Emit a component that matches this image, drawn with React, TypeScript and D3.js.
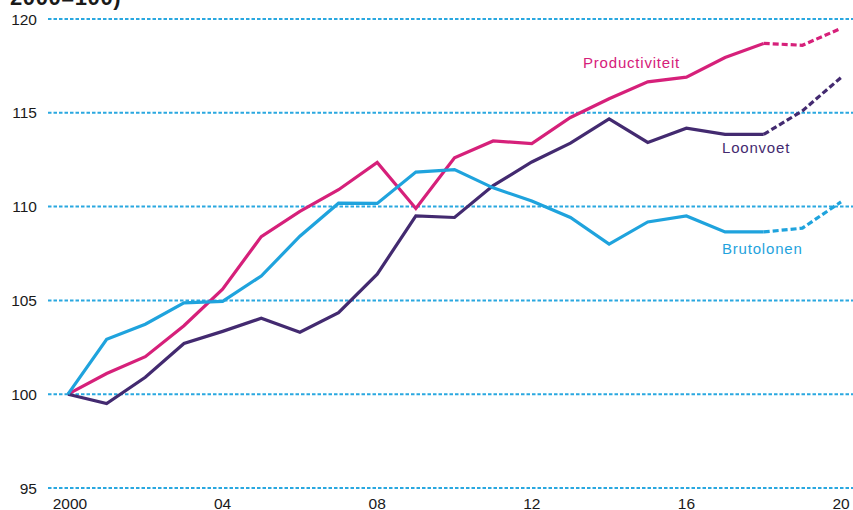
import React from "react";
import * as d3 from "d3";

const years = [2000, 2001, 2002, 2003, 2004, 2005, 2006, 2007, 2008, 2009, 2010, 2011, 2012, 2013, 2014, 2015, 2016, 2017, 2018, 2019, 2020];
const productiviteit = [100, 101.1, 102.0, 103.65, 105.6, 108.4, 109.75, 110.9, 112.35, 109.9, 112.6, 113.5, 113.36, 114.75, 115.75, 116.65, 116.9, 117.95, 118.7, 118.6, 119.5];
const loonvoet = [100, 99.5, 100.9, 102.7, 103.35, 104.05, 103.3, 104.35, 106.4, 109.5, 109.42, 111.12, 112.38, 113.38, 114.68, 113.42, 114.18, 113.85, 113.85, 115.1, 116.88];
const brutolonen = [100, 102.93, 103.73, 104.87, 104.95, 106.3, 108.42, 110.18, 110.17, 111.84, 111.97, 111.0, 110.3, 109.42, 108.0, 109.18, 109.5, 108.65, 108.65, 108.85, 110.25];
const forecastFrom = 2018;
const yTicks = [95, 100, 105, 110, 115, 120];
const xTicks = [2000, 2004, 2008, 2012, 2016, 2020];
const xTickLabels = ["2000", "04", "08", "12", "16", "20"];
const titleText = "2000=100)";

const series = [
  { name: "Productiviteit", values: productiviteit, color: "#d6207a", lx: 583, ly: 68 },
  { name: "Loonvoet", values: loonvoet, color: "#432a70", lx: 722, ly: 153 },
  { name: "Brutolonen", values: brutolonen, color: "#1fa3dd", lx: 722, ly: 254 },
];

export default function App() {
  const x = d3.scaleLinear().domain([2000, 2020]).range([68, 841]);
  const y = d3.scaleLinear().domain([95, 120]).range([488, 19]);
  const line = d3
    .line<[number, number]>()
    .x((d) => x(d[0]))
    .y((d) => y(d[1]));
  const font = "'Liberation Sans', Arial, sans-serif";

  return (
    <svg
      width={853}
      height={510}
      style={{ position: "absolute", left: 0, top: 0, background: "#fff" }}
      fontFamily={font}
    >
      <text x={10} y={5} fontSize={22} fontWeight="bold" fill="#1a1a1a" letterSpacing={0.6}>
        {titleText}
      </text>
      {yTicks.map((t) => (
        <g key={t}>
          <line
            x1={48}
            x2={853}
            y1={y(t)}
            y2={y(t)}
            stroke="#2aa8e0"
            strokeWidth={2}
            strokeDasharray="3.5 2"
          />
          <text x={37} y={y(t)} dy="0.36em" textAnchor="end" fontSize={15.5} fill="#1a1a1a">
            {t}
          </text>
        </g>
      ))}
      {xTicks.map((t, i) => (
        <text key={t} x={x(t) + (i === 0 ? 2 : 0)} y={509} textAnchor="middle" fontSize={15.5} fill="#1a1a1a">
          {xTickLabels[i]}
        </text>
      ))}
      {series.map((s) => {
        const pts: [number, number][] = years.map((yr, i) => [yr, s.values[i]]);
        const solid = pts.filter((p) => p[0] <= forecastFrom);
        const dashed = pts.filter((p) => p[0] >= forecastFrom);
        return (
          <g key={s.name}>
            <path d={line(solid) || ""} fill="none" stroke={s.color} strokeWidth={3.2} strokeLinejoin="miter" />
            <path
              d={line(dashed) || ""}
              fill="none"
              stroke={s.color}
              strokeWidth={3.2}
              strokeDasharray="6 3"
            />
            <text x={s.lx} y={s.ly} fontSize={15} fill={s.color} letterSpacing={0.8}>
              {s.name}
            </text>
          </g>
        );
      })}
    </svg>
  );
}
